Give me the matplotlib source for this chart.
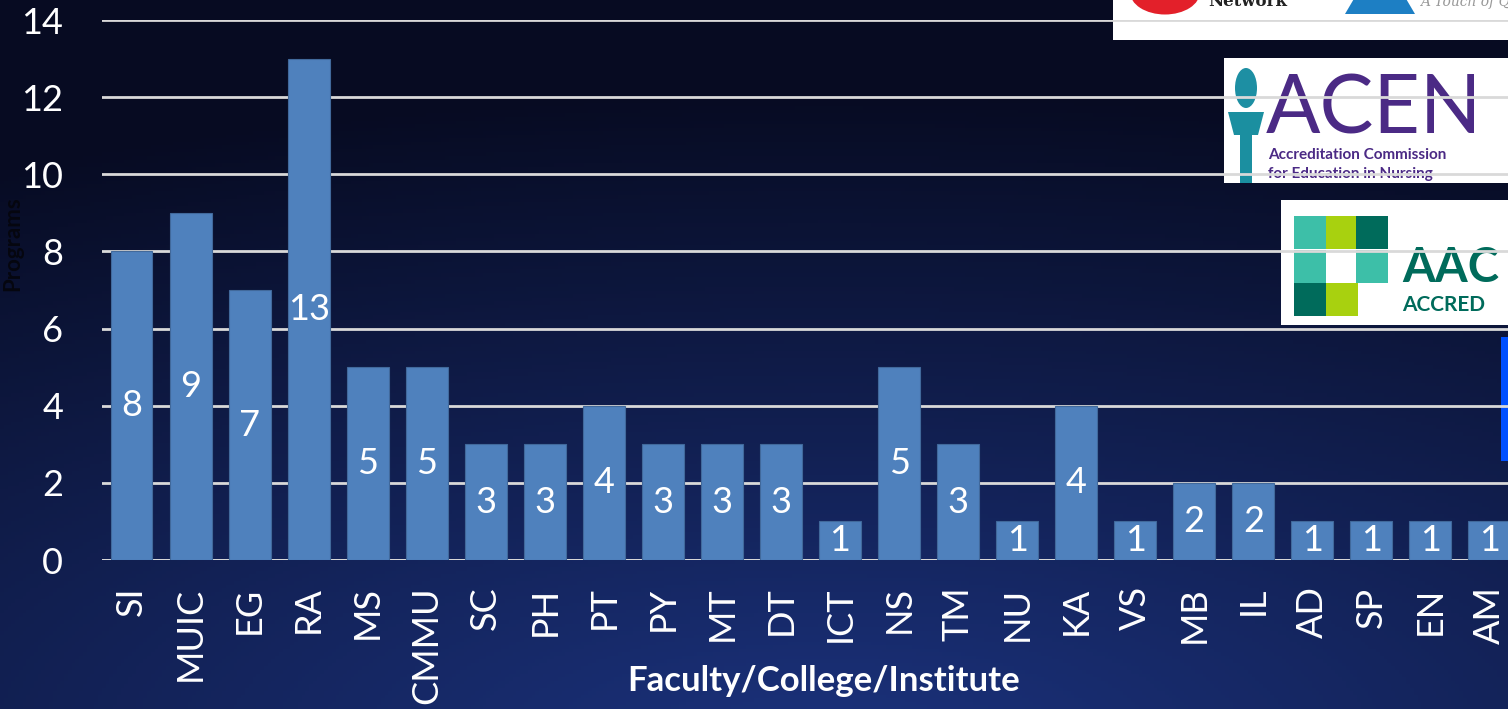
import numpy as np
import matplotlib
matplotlib.use("Agg")
import matplotlib.pyplot as plt
from matplotlib.patches import Rectangle, Ellipse, Polygon

categories = ["SI", "MUIC", "EG", "RA", "MS", "CMMU", "SC", "PH", "PT", "PY", "MT", "DT",
              "ICT", "NS", "TM", "NU", "KA", "VS", "MB", "IL", "AD", "SP", "EN", "AM"]
programs = [8, 9, 7, 13, 5, 5, 3, 3, 4, 3, 3, 3, 1, 5, 3, 1, 4, 1, 2, 2, 1, 1, 1, 1]
y_ticks = [0, 2, 4, 6, 8, 10, 12, 14]

plt.rcParams['font.family'] = ['Lato', 'DejaVu Sans']

W, H = 1508, 709
fig = plt.figure(figsize=(W / 100, H / 100), dpi=100)

# background gradient
bg = fig.add_axes([0, 0, 1, 1], zorder=-10)
yy, xx = np.mgrid[0:1:200j, 0:1:400j]
d = np.sqrt(((xx - 0.55) * 1.0) ** 2 + ((yy - 1.05) * 1.3) ** 2)
t = np.clip(d / 1.2, 0, 1)
c_in = np.array([0x1b, 0x32, 0x7c]) / 255
c_out = np.array([0x07, 0x0b, 0x22]) / 255
img = c_in[None, None, :] * (1 - t[..., None]) + c_out[None, None, :] * t[..., None]
bg.imshow(img, aspect='auto', extent=[0, 1, 1, 0])
bg.set_xlim(0, 1)
bg.set_ylim(1, 0)
bg.axis('off')

# logos (drawn behind chart)
lg = fig.add_axes([0, 0, 1, 1], zorder=-5)
lg.set_xlim(0, W)
lg.set_ylim(H, 0)
lg.axis('off')
lg.patch.set_alpha(0)
# top logo box
lg.add_patch(Rectangle((1113, -5), 400, 45, facecolor='white', edgecolor='none'))
lg.add_patch(Ellipse((1165, -8), 70, 45, facecolor='#e3202a', edgecolor='none'))
lg.text(1248, 2, "Network", color='#222222', fontsize=12, fontweight='bold',
        family='DejaVu Serif', ha='center', va='center')
lg.add_patch(Polygon([[1345, 14], [1415, 14], [1395, -20], [1365, -20]], closed=True,
                     facecolor='#1d7fc4', edgecolor='none'))
lg.text(1420, 2, "A Touch of Q", color='#999999', fontsize=10, style='italic',
        family='DejaVu Serif', ha='left', va='center')
# ACEN box
lg.add_patch(Rectangle((1224, 58), 290, 125, facecolor='white', edgecolor='none'))
lg.add_patch(Polygon([[1228, 112], [1264, 112], [1258, 135], [1234, 135]], closed=True,
                     facecolor='#1b8fa0', edgecolor='none'))
lg.add_patch(Rectangle((1240, 135), 12, 48, facecolor='#1b8fa0', edgecolor='none'))
lg.add_patch(Ellipse((1246, 88), 22, 40, facecolor='#1d8fa3', edgecolor='none'))
lg.text(1266, 110, "ACEN", color='#4b2a85', fontsize=58, ha='left', va='center',
        family='Lato')
lg.text(1268, 155, "Accreditation Commission", color='#4b2a85', fontsize=11,
        fontweight='bold', ha='left', va='center')
lg.text(1268, 174, "for Education in Nursing", color='#4b2a85', fontsize=11,
        fontweight='bold', ha='left', va='center')
# AAC box
lg.add_patch(Rectangle((1281, 200), 230, 125, facecolor='white', edgecolor='none'))
sq = [(1294, 216, '#3dbfa8'), (1326, 216, '#a8d10f'), (1356, 216, '#006b5b'),
      (1294, 283, '#006b5b'), (1326, 283, '#a8d10f'), (1356, 250, '#3dbfa8'),
      (1294, 250, '#3dbfa8')]
for x0, y0, c in sq:
    lg.add_patch(Rectangle((x0, y0), 32, 33, facecolor=c, edgecolor='none'))
lg.add_patch(Rectangle((1326, 250), 30, 33, facecolor='white', edgecolor='none'))
lg.text(1402, 268, "AAC", color='#006b5b', fontsize=34, fontweight='bold',
        ha='left', va='center')
lg.text(1402, 305, "ACCRED", color='#006b5b', fontsize=15, fontweight='bold',
        ha='left', va='center')
# blue bar at right
lg.add_patch(Rectangle((1501, 337), 10, 124, facecolor='#0050ff', edgecolor='none'))

# main axes
step = 59.04
left = 102 / W
bottom = (H - 560) / H
width = (step * 24) / W
height = 540 / H
ax = fig.add_axes([left, bottom, width, height], zorder=1)
ax.patch.set_alpha(0)

x = np.arange(len(categories))
ax.bar(x, programs, width=0.71, color='#4f81bd', edgecolor='#41699b',
       linewidth=0.8, zorder=3)
for xi, v in zip(x, programs):
    ax.text(xi, v / 2, str(v), color='white', fontsize=26, ha='center', va='center',
            zorder=4)

ax.set_xlim(-0.5, len(categories) - 0.5)
ax.set_ylim(0, 14)
ax.set_yticks(y_ticks)
ax.set_yticklabels([str(v) for v in y_ticks], fontsize=26, color='white')
ax.set_xticks(x)
ax.set_xticklabels(categories, rotation=90, fontsize=26, color='white')
ax.tick_params(axis='y', length=0, pad=28)
ax.tick_params(axis='x', length=0, pad=19)
ax.yaxis.grid(True, color='#d9d9d9', linewidth=2, zorder=0)
ax.set_axisbelow(True)
for s in ax.spines.values():
    s.set_visible(False)
ax.axhline(0, color='#d9d9d9', linewidth=2, zorder=2)

ax.set_xlabel("Faculty/College/Institute", fontsize=25, fontweight='bold', color='white')
ax.xaxis.set_label_coords((824 - 102) / (step * 24), -(681 - 560) / 540)
ax.xaxis.label.set_va('center')
ax.set_ylabel("Programs", fontsize=16, fontweight='bold', color='#05060f')
ax.yaxis.set_label_coords(-(102 - 13) / (step * 24), (560 - 244) / 540)
ax.yaxis.label.set_va('center')

fig.savefig("out.png", dpi=100)
